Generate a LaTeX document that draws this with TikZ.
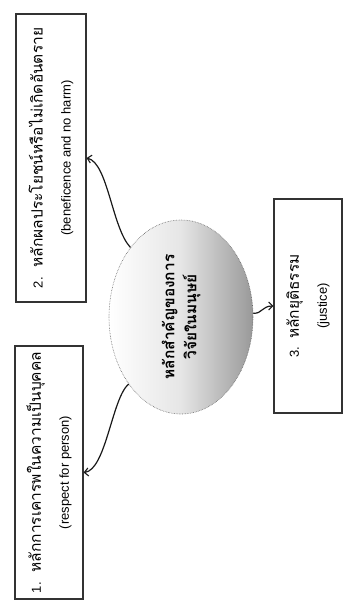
\documentclass[tikz,border=0pt]{standalone}
\usepackage{fontspec}
\setmainfont{Liberation Sans}
\newfontfamily\thaifont[Script=Thai]{Loma}
\usetikzlibrary{shapes.geometric,arrows.meta}
\newcommand{\thl}[1]{{\thaifont\fontsize{15.5}{28}\selectfont #1}}
\tikzset{
  boxnode/.style={draw=black!80, line width=1.1pt, rotate=90, inner sep=0pt,
    align=center, font=\fontsize{13}{28}\selectfont},
  conn/.style={line width=1.2pt, black!90, -{Straight Barb[length=4pt,width=8pt,line width=1.1pt]}},
  hub/.style={ellipse, inner sep=0pt, minimum width=144pt, minimum height=194pt,
    draw=black!60, densely dotted, line width=0.6pt,
    left color=white, right color=black!40, middle color=black!10}
}
\begin{document}
\begin{tikzpicture}[x=1pt,y=-1pt]
\useasboundingbox (0,0) rectangle (349,610);
\fill[white] (0,0) rectangle (349,610);
\node[boxnode, minimum width=288pt, minimum height=70pt] (b2) at (51,158)
  {2.\hspace{10pt}\thl{หลักผลประโยชน์หรือไม่เกิดอันตราย}\\(beneficence and no harm)};
\node[boxnode, minimum width=253pt, minimum height=68pt] (b1) at (49,472.5)
  {1.\hspace{10pt}\thl{หลักการเคารพในความเป็นบุคคล}\\(respect for person)};
\node[boxnode, minimum width=214pt, minimum height=68pt] (b3) at (308,306)
  {3.\hspace{8pt}\thl{หลักยุติธรรม}\\(justice)};
\node[hub] (e) at (181,317)
  {\rotatebox{90}{\thaifont\bfseries\fontsize{15.5}{22}\selectfont\begin{tabular}{@{}c@{}}หลักสำคัญของการ\\วิจัยในมนุษย์\end{tabular}}};
\draw[conn] (e.126) .. controls (112,228) and (108,163) .. (b2.south);
\draw[conn] (e.232) .. controls (112,398) and (106,470) .. (b1.south);
\draw[conn] (e.3) .. controls (262,314) and (262,306) .. (b3.north);
\end{tikzpicture}
\end{document}
